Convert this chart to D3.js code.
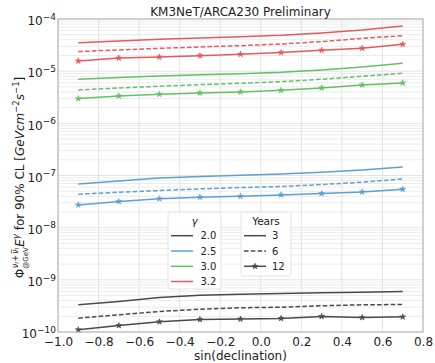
<!DOCTYPE html>
<html>
<head>
<meta charset="utf-8">
<script src="https://cdn.jsdelivr.net/npm/d3@7"></script>
<style>
  html, body { margin: 0; padding: 0; background: #fff; }
  svg { display: block; font-family: "DejaVu Sans", sans-serif; }
</style>
</head>
<body>
<svg id="chart" width="435" height="363"></svg>
<script>
// sin(declination) sampling points
const sinDec = [-0.9, -0.7, -0.5, -0.3, -0.1, 0.1, 0.3, 0.5, 0.7];

// Spectral indices and exposure times
const gammaLabels = ["2.0", "2.5", "3.0", "3.2"];
const yearLabels = ["3", "6", "12"];

// 90% CL flux limits, gamma = 2.0
const g20_3y  = [3.32e-10, 3.85e-10, 4.59e-10, 5.08e-10, 5.31e-10, 5.47e-10, 5.64e-10, 5.81e-10, 5.97e-10];
const g20_6y  = [1.84e-10, 2.14e-10, 2.47e-10, 2.74e-10, 2.91e-10, 2.99e-10, 3.18e-10, 3.32e-10, 3.37e-10];
const g20_12y = [1.10e-10, 1.33e-10, 1.57e-10, 1.74e-10, 1.77e-10, 1.82e-10, 1.99e-10, 1.90e-10, 1.95e-10];

// gamma = 2.5
const g25_3y  = [6.90e-8, 7.88e-8, 9.00e-8, 9.54e-8, 1.01e-7, 1.07e-7, 1.16e-7, 1.28e-7, 1.46e-7];
const g25_6y  = [4.38e-8, 4.78e-8, 5.14e-8, 5.54e-8, 5.87e-8, 6.14e-8, 6.70e-8, 7.43e-8, 8.61e-8];
const g25_12y = [2.73e-8, 3.17e-8, 3.57e-8, 3.84e-8, 4.01e-8, 4.25e-8, 4.51e-8, 4.85e-8, 5.45e-8];

// gamma = 3.0
const g30_3y  = [6.99e-6, 7.52e-6, 8.09e-6, 8.58e-6, 8.97e-6, 9.51e-6, 1.05e-5, 1.20e-5, 1.42e-5];
const g30_6y  = [4.36e-6, 4.77e-6, 5.13e-6, 5.52e-6, 5.86e-6, 6.30e-6, 6.99e-6, 7.97e-6, 9.10e-6];
const g30_12y = [2.98e-6, 3.35e-6, 3.61e-6, 3.82e-6, 4.00e-6, 4.30e-6, 4.77e-6, 5.44e-6, 5.94e-6];

// gamma = 3.2
const g32_3y  = [3.52e-5, 3.79e-5, 4.08e-5, 4.33e-5, 4.59e-5, 4.87e-5, 5.39e-5, 6.15e-5, 7.34e-5];
const g32_6y  = [2.37e-5, 2.55e-5, 2.74e-5, 2.91e-5, 3.08e-5, 3.32e-5, 3.68e-5, 4.26e-5, 4.80e-5];
const g32_12y = [1.57e-5, 1.79e-5, 1.87e-5, 1.98e-5, 2.11e-5, 2.27e-5, 2.51e-5, 2.74e-5, 3.27e-5];

// Axis ticks
const xTicks = [-1.0, -0.8, -0.6, -0.4, -0.2, 0.0, 0.2, 0.4, 0.6, 0.8];
const yDecades = [-10, -9, -8, -7, -6, -5, -4];

const colors = ["#4a4a4a", "#5f9fd3", "#63c163", "#e6595c"];
const dashes = [null, "4.6,2.2", null];

const series = [
  [g20_3y, g20_6y, g20_12y],
  [g25_3y, g25_6y, g25_12y],
  [g30_3y, g30_6y, g30_12y],
  [g32_3y, g32_6y, g32_12y]
];

const svg = d3.select("#chart");
const margin = { left: 58, right: 12, top: 19, bottom: 31 };
const W = 435, H = 363;
const x = d3.scaleLinear().domain([-1.0, 0.8]).range([margin.left, W - margin.right]);
const y = d3.scaleLog().domain([1e-10, 1e-4]).range([H - margin.bottom, margin.top]);

const gridColor = "#dcdcdc";

// Horizontal grid: decades and minor sub-decades
const minorVals = [];
for (let e = -10; e < -4; e++) {
  for (let m = 2; m <= 9; m++) minorVals.push(m * Math.pow(10, e));
}
svg.append("g").selectAll("line.minor").data(minorVals).join("line")
  .attr("x1", x.range()[0]).attr("x2", x.range()[1])
  .attr("y1", d => y(d)).attr("y2", d => y(d))
  .attr("stroke", "#e6e6e6").attr("stroke-width", 0.8);
svg.append("g").selectAll("line.major").data(yDecades).join("line")
  .attr("x1", x.range()[0]).attr("x2", x.range()[1])
  .attr("y1", d => y(Math.pow(10, d))).attr("y2", d => y(Math.pow(10, d)))
  .attr("stroke", gridColor).attr("stroke-width", 0.8);
// Vertical grid
svg.append("g").selectAll("line").data(xTicks).join("line")
  .attr("x1", d => x(d)).attr("x2", d => x(d))
  .attr("y1", y.range()[0]).attr("y2", y.range()[1])
  .attr("stroke", gridColor).attr("stroke-width", 0.8);

// Limit curves
const line = d3.line().x((d, i) => x(sinDec[i])).y(d => y(d));
const star = d3.symbol().type(d3.symbolStar).size(11);
series.forEach((grp, gi) => {
  grp.forEach((vals, yi) => {
    svg.append("path").datum(vals)
      .attr("d", line)
      .attr("fill", "none")
      .attr("stroke", colors[gi])
      .attr("stroke-width", 1.5)
      .attr("stroke-dasharray", dashes[yi]);
    if (yi === 2) {
      svg.append("g").selectAll("path").data(vals).join("path")
        .attr("d", star)
        .attr("transform", (d, i) => `translate(${x(sinDec[i])},${y(d)})`)
        .attr("fill", colors[gi]).attr("stroke", colors[gi]).attr("stroke-width", 0.6);
    }
  });
});

// Frame
svg.append("rect")
  .attr("x", x.range()[0]).attr("y", y.range()[1])
  .attr("width", x.range()[1] - x.range()[0])
  .attr("height", y.range()[0] - y.range()[1])
  .attr("fill", "none").attr("stroke", "#a8a8a8").attr("stroke-width", 0.9);

// X axis
const xAxis = svg.append("g")
  .attr("transform", `translate(0,${y.range()[0]})`)
  .call(d3.axisBottom(x).tickValues(xTicks).tickSize(0).tickPadding(5.5)
    .tickFormat(d => d3.format(".1f")(d).replace("-", "\u2212")));
xAxis.select(".domain").remove();
xAxis.selectAll("text").attr("font-size", 12).attr("fill", "#222")
  .attr("font-family", "DejaVu Sans");

// Y axis, powers of ten
const yAxis = svg.append("g")
  .attr("transform", `translate(${x.range()[0]},0)`)
  .call(d3.axisLeft(y).tickValues(yDecades.map(e => Math.pow(10, e))).tickSize(0).tickFormat(""));
yAxis.select(".domain").remove();
yAxis.selectAll(".tick").each(function (d) {
  const e = Math.round(Math.log10(d));
  const t = d3.select(this).append("text")
    .attr("x", -2).attr("y", 5.8)
    .attr("text-anchor", "end").attr("fill", "#222")
    .attr("font-family", "DejaVu Sans");
  t.append("tspan").attr("font-size", 12).text("10");
  t.append("tspan").attr("font-size", 9).attr("dy", -5.5).text("\u2212" + Math.abs(e));
});

// Title
svg.append("text")
  .attr("x", (x.range()[0] + x.range()[1]) / 2).attr("y", 15.5)
  .attr("text-anchor", "middle").attr("font-size", 12).attr("fill", "#222")
  .text("KM3NeT/ARCA230 Preliminary");

// X label
svg.append("text")
  .attr("x", (x.range()[0] + x.range()[1]) / 2).attr("y", 360)
  .attr("text-anchor", "middle").attr("font-size", 12).attr("fill", "#222")
  .text("sin(declination)");

// Y label, built from runs so the stacked sub/superscripts line up
const yl = svg.append("g");
const runs = [
  { t: "\u03A6", s: 12, dy: 0 },
  { stack: true },
  { t: "E", s: 12, dy: 0, it: true },
  { t: "\u03B3", s: 8.5, dy: -5, it: true },
  { gap: 3.8 },
  { t: "for 90% CL", s: 12, dy: 0 },
  { gap: 3.8 },
  { t: "[", s: 12, dy: 0 },
  { t: "GeVcm", s: 12, dy: 0, it: true },
  { t: "\u22122", s: 8.5, dy: -5 },
  { t: "s", s: 12, dy: 0, it: true },
  { t: "\u22121", s: 8.5, dy: -5 },
  { t: "]", s: 12, dy: 0 }
];
let cx = 0;
function put(t, s, dy, it, at) {
  const el = yl.append("text").attr("x", at).attr("y", dy)
    .attr("font-size", s).attr("fill", "#222")
    .attr("font-style", it ? "italic" : null).text(t);
  return el.node().getComputedTextLength();
}
runs.forEach(r => {
  if (r.gap) {
    cx += r.gap;
  } else if (r.stack) {
    // superscript: nu_l + nu-bar_l, subscript: @GeV
    let sx = cx + 0.5;
    sx += put("\u03BD", 8, -6.5, true, sx);
    sx += put("l", 5.6, -4.8, true, sx);
    sx += put("+", 8, -6.5, false, sx + 0.8) + 1.6;
    const nbStart = sx;
    const nw = put("\u03BD", 8, -6.5, true, sx);
    yl.append("line").attr("x1", nbStart + 0.6).attr("x2", nbStart + nw + 0.3)
      .attr("y1", -12.6).attr("y2", -12.6).attr("stroke", "#222").attr("stroke-width", 0.6);
    sx += nw;
    sx += put("l", 5.6, -4.8, true, sx);
    const bx = cx + put("@GeV", 7, 3.5, false, cx);
    cx = Math.max(sx, bx) + 0.5;
  } else {
    cx += put(r.t, r.s, r.dy, r.it, cx);
  }
});
yl.attr("transform", `translate(24,${(y.range()[0] + y.range()[1]) / 2 + 2 + cx / 2}) rotate(-90)`);

// Legends
function legendBox(x0, y0, w, h) {
  svg.append("rect").attr("x", x0).attr("y", y0).attr("width", w).attr("height", h)
    .attr("rx", 2.5).attr("fill", "#fff").attr("fill-opacity", 0.85)
    .attr("stroke", "#dddddd").attr("stroke-width", 0.8);
}
const rowY = [235.7, 251, 266.3, 281.5];

// Spectral index legend
legendBox(168, 212, 53, 77);
svg.append("text").attr("x", 194.5).attr("y", 224.5).attr("text-anchor", "middle")
  .attr("font-size", 10.5).attr("font-style", "italic").attr("fill", "#222").text("\u03B3");
gammaLabels.forEach((g, i) => {
  svg.append("line").attr("x1", 171).attr("x2", 193).attr("y1", rowY[i]).attr("y2", rowY[i])
    .attr("stroke", colors[i]).attr("stroke-width", 1.5);
  svg.append("text").attr("x", 200.5).attr("y", rowY[i] + 3.6)
    .attr("font-size", 10).attr("fill", "#222").text(g);
});

// Exposure legend
legendBox(241, 212, 50, 64);
svg.append("text").attr("x", 266).attr("y", 224.5).attr("text-anchor", "middle")
  .attr("font-size", 10.5).attr("fill", "#222").text("Years");
yearLabels.forEach((yr, i) => {
  svg.append("line").attr("x1", 244).attr("x2", 266).attr("y1", rowY[i]).attr("y2", rowY[i])
    .attr("stroke", "#4a4a4a").attr("stroke-width", 1.5)
    .attr("stroke-dasharray", dashes[i]);
  if (i === 2) {
    svg.append("path").attr("d", star)
      .attr("transform", `translate(255,${rowY[i]})`)
      .attr("fill", "#4a4a4a").attr("stroke", "#4a4a4a").attr("stroke-width", 0.6);
  }
  svg.append("text").attr("x", 272).attr("y", rowY[i] + 3.6)
    .attr("font-size", 10).attr("fill", "#222").text(yr);
});
</script>
</body>
</html>
